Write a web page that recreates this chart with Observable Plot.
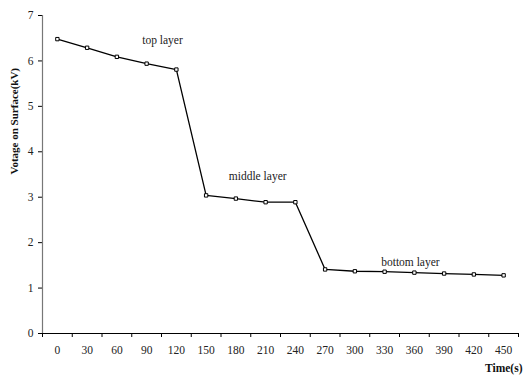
<!DOCTYPE html>
<html>
<head>
<meta charset="utf-8">
<script src="https://cdn.jsdelivr.net/npm/d3@7"></script>
<script src="https://cdn.jsdelivr.net/npm/@observablehq/plot@0.6"></script>
<style>
  html, body { margin: 0; padding: 0; background: #fff; }
  svg { display: block; }
</style>
</head>
<body>
<div id="chart"></div>
<script>
const times = [0, 30, 60, 90, 120, 150, 180, 210, 240, 270, 300, 330, 360, 390, 420, 450];
const voltage = [6.48, 6.29, 6.09, 5.94, 5.81, 3.04, 2.97, 2.89, 2.89, 1.41, 1.37, 1.36, 1.34, 1.32, 1.30, 1.28];
const yTicks = [0, 1, 2, 3, 4, 5, 6, 7];
const boundaries = [-15, 15, 45, 75, 105, 135, 165, 195, 225, 255, 285, 315, 345, 375, 405, 435, 465];
const annoText = ["top layer", "middle layer", "bottom layer"];
const annoX = [106, 202, 356];
const annoY = [6.45, 3.46, 1.56];

const data = times.map((t, i) => ({t, v: voltage[i]}));
const annos = annoText.map((s, i) => ({s, x: annoX[i], y: annoY[i]}));
const font = "'Liberation Serif', 'Times New Roman', serif";

const chart = Plot.plot({
  width: 524,
  height: 378,
  marginLeft: 42,
  marginRight: 6,
  marginTop: 15,
  marginBottom: 45,
  style: {fontFamily: font, fontSize: "11px", color: "#222", background: "#fff"},
  x: {domain: [-15, 465], label: null},
  y: {domain: [0, 7], label: null},
  marks: [
    Plot.axisX({ticks: boundaries, tickSize: 4, tickFormat: () => "", stroke: "#000"}),
    Plot.axisX({ticks: times, tickSize: 0, tickPadding: 12, tickFormat: "d", fontSize: 11.5, fill: "#222"}),
    Plot.axisY({ticks: yTicks, tickSize: 4, tickPadding: 5, tickFormat: "d", fontSize: 11.5, fill: "#222", stroke: "#000"}),
    Plot.ruleX([-15], {stroke: "#777", strokeWidth: 1.2}),
    Plot.ruleY([0], {stroke: "#000", strokeWidth: 1.2}),
    Plot.line(data, {x: "t", y: "v", stroke: "#000", strokeWidth: 1.3}),
    Plot.dot(data, {x: "t", y: "v", symbol: "square", r: 1.9, fill: "#fff", stroke: "#000", strokeWidth: 1}),
    Plot.text(annos, {x: "x", y: "y", text: "s", fontSize: 11.5, fill: "#222"}),
    Plot.text(["Votage on Surface(kV)"], {frameAnchor: "left", rotate: -90, dx: -28, fontWeight: "bold", fontSize: 11, fill: "#111"}),
    Plot.text(["Time(s)"], {frameAnchor: "bottom-right", textAnchor: "end", dx: 4, dy: 38, fontWeight: "bold", fontSize: 11.5, fill: "#111"})
  ]
});
document.getElementById("chart").appendChild(chart);
</script>
</body>
</html>
